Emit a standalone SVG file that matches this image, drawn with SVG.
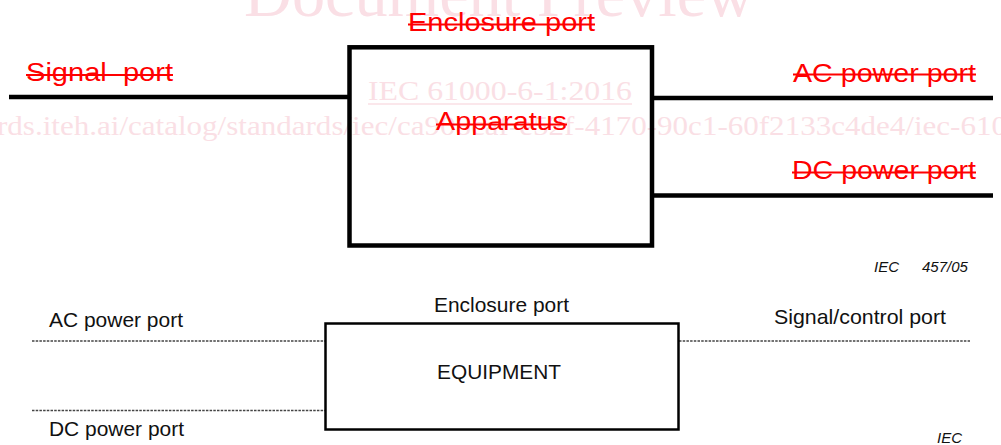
<svg xmlns="http://www.w3.org/2000/svg" width="1001" height="445" viewBox="0 0 1001 445">
  <style>
    .wm { font-family: "Liberation Serif", "Times New Roman", serif; fill: #fadfe5; }
    .red { font-family: "Liberation Sans", Arial, sans-serif; font-size: 26px; fill: #ff0000; }
    .strike { stroke: #ff0000; stroke-width: 2; }
    .lbl { font-family: "Liberation Sans", Arial, sans-serif; font-size: 21px; fill: #111111; }
    .tag { font-family: "Liberation Sans", Arial, sans-serif; font-size: 15px; font-style: italic; fill: #111111; }
    .heavy { stroke: #000000; stroke-width: 4.5; fill: none; }
    .dash { stroke: #444444; stroke-width: 1.5; stroke-dasharray: 2.5 1.2; fill: none; }
  </style>

  <!-- background -->
  <rect x="0" y="0" width="1001" height="445" fill="#ffffff"/>

  <!-- preview watermark -->
  <g id="watermark">
    <text class="wm" x="244" y="16" font-size="66" textLength="510" lengthAdjust="spacingAndGlyphs">Document Preview</text>
    <text class="wm" x="368" y="100" font-size="28" textLength="264" lengthAdjust="spacingAndGlyphs">IEC 61000-6-1:2016</text>
    <line x1="368" y1="104" x2="632" y2="104" stroke="#fadfe5" stroke-width="1.5"/>
    <text class="wm" x="-3" y="135" font-size="28" textLength="1010" lengthAdjust="spacingAndGlyphs">rds.iteh.ai/catalog/standards/iec/ca908caf-e52f-4170-90c1-60f2133c4de4/iec-610</text>
  </g>

  <!-- upper figure: apparatus and its ports -->
  <g id="upper-connectors">
    <line class="heavy" x1="9" y1="97" x2="350" y2="97"/>
    <line class="heavy" x1="652" y1="98" x2="993" y2="98"/>
    <line class="heavy" x1="652" y1="195.5" x2="993" y2="195.5"/>
  </g>

  <g id="apparatus">
    <rect class="heavy" x="349.5" y="47.3" width="302.5" height="198.2"/>
    <text class="red" x="436" y="130" textLength="131" lengthAdjust="spacingAndGlyphs">Apparatus</text>
    <line class="strike" x1="436" y1="124.5" x2="567" y2="124.5"/>
  </g>

  <g id="enclosure-port-upper">
    <text class="red" x="408" y="31" textLength="187" lengthAdjust="spacingAndGlyphs">Enclosure port</text>
    <line class="strike" x1="408" y1="24.5" x2="595" y2="24.5"/>
  </g>

  <g id="signal-port-upper">
    <text class="red" x="26" y="81" textLength="147" lengthAdjust="spacingAndGlyphs" xml:space="preserve">Signal  port</text>
    <line class="strike" x1="26" y1="75" x2="173" y2="75"/>
  </g>

  <g id="ac-power-port-upper">
    <text class="red" x="793" y="82" textLength="183" lengthAdjust="spacingAndGlyphs">AC power port</text>
    <line class="strike" x1="793" y1="74.5" x2="976" y2="74.5"/>
  </g>

  <g id="dc-power-port-upper">
    <text class="red" x="792" y="179" textLength="184" lengthAdjust="spacingAndGlyphs">DC power port</text>
    <line class="strike" x1="792" y1="172.5" x2="976" y2="172.5"/>
  </g>

  <g id="figure-ref-upper">
    <text class="tag" x="874" y="272">IEC</text>
    <text class="tag" x="922" y="272">457/05</text>
  </g>

  <!-- lower figure: equipment and its ports -->
  <g id="lower-connectors">
    <line class="dash" x1="32" y1="341" x2="325" y2="341"/>
    <line class="dash" x1="32" y1="410.5" x2="325" y2="410.5"/>
    <line class="dash" x1="679" y1="341" x2="970" y2="341"/>
  </g>

  <g id="equipment">
    <rect x="325.5" y="323.5" width="353" height="106" fill="none" stroke="#000000" stroke-width="2.5"/>
    <text class="lbl" x="437" y="379" textLength="124" lengthAdjust="spacingAndGlyphs">EQUIPMENT</text>
  </g>

  <g id="enclosure-port-lower">
    <text class="lbl" x="434" y="312" textLength="135" lengthAdjust="spacingAndGlyphs">Enclosure port</text>
  </g>

  <g id="ac-power-port-lower">
    <text class="lbl" x="49" y="327" textLength="134" lengthAdjust="spacingAndGlyphs">AC power port</text>
  </g>

  <g id="dc-power-port-lower">
    <text class="lbl" x="49" y="436" textLength="135" lengthAdjust="spacingAndGlyphs">DC power port</text>
  </g>

  <g id="signal-control-port-lower">
    <text class="lbl" x="774" y="324" textLength="172" lengthAdjust="spacingAndGlyphs">Signal/control port</text>
  </g>

  <g id="figure-ref-lower">
    <text class="tag" x="937" y="443">IEC</text>
  </g>
</svg>
